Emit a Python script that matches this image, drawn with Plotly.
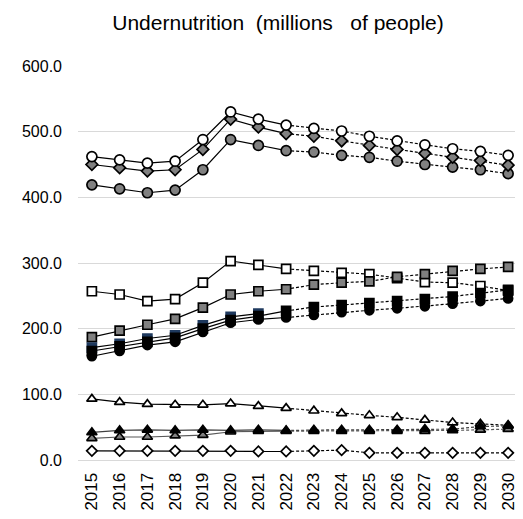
import plotly.graph_objects as go

years = [str(y) for y in range(2015, 2031)]
SPLIT = 7  # index of 2022: solid before, dashed after

open_circle = [462, 457, 452, 455, 488, 530, 519, 510, 505, 501, 493, 486, 480, 474, 470, 464]
grey_diamond = [450, 445, 440, 442, 473, 519, 507, 497, 493, 486, 479, 473, 467, 461, 456, 449]
grey_circle = [419, 413, 407, 411, 442, 488, 479, 471, 469, 464, 461, 455, 450, 446, 442, 436]

open_square = [257, 252, 242, 245, 270, 303, 297, 291, 288, 285, 283, 277, 271, 270, 265, 258]
grey_square = [187, 197, 206, 215, 232, 252, 257, 260, 267, 270, 272, 279, 283, 288, 291, 294]
navy_square = [171, 177, 185, 190, 205, 218, 223]
black_square = [166, 173, 180, 186, 200, 213, 219, 227, 233, 236, 239, 242, 245, 249, 254, 259]
black_circle = [158, 166, 175, 180, 195, 209, 214, 217, 221, 225, 228, 231, 234, 238, 242, 246]

open_triangle = [93, 88, 85, 84, 84, 86, 82, 79, 75, 71, 68, 65, 61, 57, 55, 53]
black_triangle = [42, 45, 46, 45, 46, 45, 46, 45, 46, 46, 46, 46, 47, 47, 51, 52]
grey_triangle = [33, 35, 35, 37, 38, 43, 44, 44, 44, 44, 44, 44, 44, 45, 46, 47]
open_diamond = [14, 14, 14, 14, 14, 14, 13, 13, 14, 15, 11, 11, 11, 11, 11, 11]

title_text = "Undernutrition\u00a0\u00a0(millions\u00a0\u00a0\u00a0of people)"

fig = go.Figure()

def add(vals, symbol, fill, size=9, line_col="black", outline="black"):
    n = len(vals)
    k = min(n, SPLIT + 1)
    fig.add_trace(go.Scatter(x=years[:k], y=vals[:k], mode="lines",
                             line=dict(color=line_col, width=1.2), showlegend=False, hoverinfo="skip"))
    if n > SPLIT + 1:
        fig.add_trace(go.Scatter(x=years[SPLIT:n], y=vals[SPLIT:], mode="lines",
                                 line=dict(color=line_col, width=1.2, dash="3px,2px"),
                                 showlegend=False, hoverinfo="skip"))
    fig.add_trace(go.Scatter(x=years[:n], y=vals, mode="markers",
                             marker=dict(symbol=symbol, size=size, color=fill,
                                         line=dict(color=outline, width=1.7)),
                             showlegend=False))

add(open_triangle, "triangle-up", "white")
add(grey_triangle, "triangle-up", "#808080", line_col="#595959")
add(black_triangle, "triangle-up", "black", line_col="#404040")
add(open_diamond, "diamond", "white", size=8)

add(open_square, "square", "white")
add(grey_square, "square", "#808080")
add(navy_square, "square", "#1F3A5F", outline="#1F3A5F")
add(black_square, "square", "black")
add(black_circle, "circle", "black")

add(grey_circle, "circle", "#808080", size=10)
add(grey_diamond, "diamond", "#808080")
add(open_circle, "circle", "white", size=10)

# page body adds an ~8px offset; margins compensate so the plot lands where the reference has it
fig.update_layout(
    width=523, height=519,
    margin=dict(l=70, r=9, t=58, b=67),
    paper_bgcolor="white", plot_bgcolor="white",
    font=dict(family="Liberation Sans, Arial, sans-serif", size=17, color="black"),
    title=dict(text=title_text, x=270 / 523, xref="container",
               y=1 - 15 / 519, yref="container", xanchor="center", yanchor="middle",
               font=dict(size=21, color="black")),
)
fig.update_xaxes(type="category", range=[-0.5, 15.5], tickangle=-90,
                 showgrid=False, showline=True, linecolor="#D9D9D9", linewidth=1,
                 ticks="", tickfont=dict(size=17), ticklabelstandoff=5)
fig.update_yaxes(range=[0, 600], dtick=100, tickformat=".1f", showgrid=True,
                 gridcolor="#D9D9D9", gridwidth=1, zeroline=False, showline=False,
                 ticks="", tickfont=dict(size=16), ticklabelstandoff=15)

fig.write_html("out.html")
